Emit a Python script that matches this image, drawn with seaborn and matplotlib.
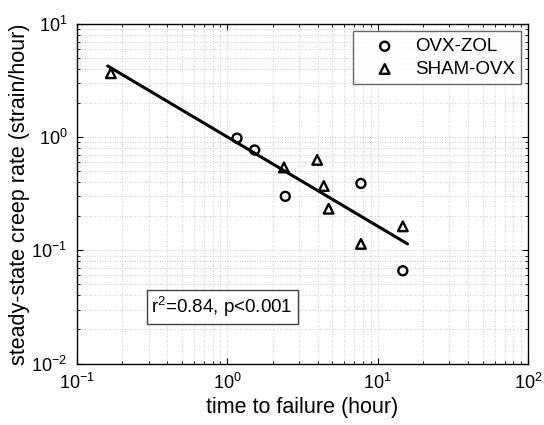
import numpy as np
import pandas as pd
import matplotlib
matplotlib.use("Agg")
import matplotlib.pyplot as plt
import seaborn as sns
from matplotlib.ticker import LogLocator, NullFormatter

# ---- data ----
zol_time = [1.16, 1.52, 2.43, 7.74, 14.7]
zol_rate = [0.98, 0.77, 0.30, 0.39, 0.066]

sham_time = [0.168, 2.38, 3.96, 4.38, 4.72, 7.74, 14.7]
sham_rate = [3.67, 0.54, 0.63, 0.37, 0.233, 0.114, 0.163]

fit_time = [0.16, 15.8]
fit_rate = [4.26, 0.114]

group_names = ["OVX-ZOL", "SHAM-OVX"]
annotation = "r$^2$=0.84, p<0.001"

sns.set_theme(style="white")
plt.rcParams["font.family"] = ["Liberation Sans", "DejaVu Sans"]
plt.rcParams["mathtext.fontset"] = "custom"
plt.rcParams["mathtext.rm"] = "Liberation Sans"
plt.rcParams["mathtext.it"] = "Liberation Sans:italic"
plt.rcParams["mathtext.bf"] = "Liberation Sans:bold"
plt.rcParams["text.color"] = "black"
plt.rcParams["axes.labelcolor"] = "black"
plt.rcParams["xtick.color"] = "black"
plt.rcParams["ytick.color"] = "black"

df_zol = pd.DataFrame({"time": zol_time, "rate": zol_rate})
df_sham = pd.DataFrame({"time": sham_time, "rate": sham_rate})
df_fit = pd.DataFrame({"time": fit_time, "rate": fit_rate})

fig = plt.figure(figsize=(5.44, 4.25), dpi=100)
ax = fig.add_axes([0.1415, 0.1447, 0.8291, 0.7988])

ax.set_xscale("log")
ax.set_yscale("log")

sns.lineplot(data=df_fit, x="time", y="rate", ax=ax, color="black",
             linewidth=2.2, legend=False, zorder=3)
sns.scatterplot(data=df_zol, x="time", y="rate", ax=ax, marker="o", s=42,
                facecolor="none", edgecolor="black", linewidth=1.7,
                label=group_names[0], zorder=4)
sns.scatterplot(data=df_sham, x="time", y="rate", ax=ax, marker="^", s=48,
                facecolor="none", edgecolor="black", linewidth=1.7,
                label=group_names[1], zorder=4)

ax.set_xlim(0.1, 100)
ax.set_ylim(0.01, 10)

ax.xaxis.set_major_locator(LogLocator(base=10, numticks=10))
ax.yaxis.set_major_locator(LogLocator(base=10, numticks=10))
ax.xaxis.set_minor_locator(LogLocator(base=10, subs=np.arange(2, 10), numticks=100))
ax.yaxis.set_minor_locator(LogLocator(base=10, subs=np.arange(2, 10), numticks=100))
ax.xaxis.set_minor_formatter(NullFormatter())
ax.yaxis.set_minor_formatter(NullFormatter())

ax.grid(True, which="both", linestyle=(0, (1, 2)), color="#bdbdbd", linewidth=0.6)
ax.set_axisbelow(True)

ax.tick_params(which="both", direction="in", top=True, right=True,
               bottom=True, left=True, color="black")
ax.tick_params(which="major", length=4, width=0.8, labelsize=13)
ax.tick_params(which="minor", length=2.5, width=0.6)
ax.tick_params(axis="x", which="major", pad=7)
ax.tick_params(axis="y", which="major", pad=7)

for sp in ax.spines.values():
    sp.set_color("black")
    sp.set_linewidth(1.0)

ax.set_xlabel("time to failure (hour)", fontsize=15.5, labelpad=3)
ax.set_ylabel("steady-state creep rate (strain/hour)", fontsize=15.5, labelpad=1)

leg = ax.legend(loc="upper right", bbox_to_anchor=(0.985, 0.978),
                fontsize=13.5, frameon=True, fancybox=False,
                edgecolor="#404040", handletextpad=0.25, borderpad=0.35,
                labelspacing=0.3, handlelength=2.7, borderaxespad=0)
leg.get_frame().set_linewidth(1.0)

ax.text(0.165, 0.167, annotation, transform=ax.transAxes, fontsize=13.5,
        va="center", ha="left",
        bbox=dict(boxstyle="square,pad=0.25", facecolor="white",
                  edgecolor="#404040", linewidth=1.0))

fig.savefig("out.png", dpi=100)
